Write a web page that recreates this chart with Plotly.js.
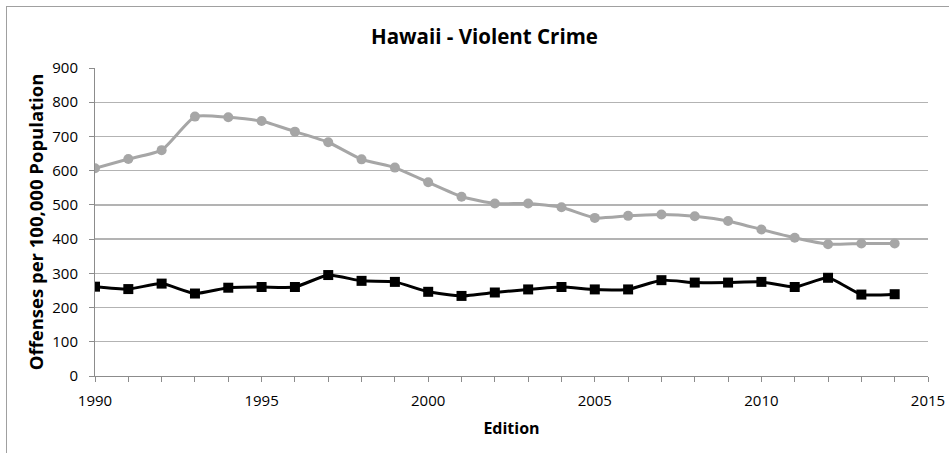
<!DOCTYPE html>
<html>
<head>
<meta charset="utf-8">
<script src="https://cdn.plot.ly/plotly-3.0.1.min.js"></script>
<style>
  html, body { margin: 0; padding: 0; background: #ffffff; }
  #frame { position: absolute; left: 6px; top: 6px; width: 960px; height: 470px; border: 1px solid #a0a0a0; box-sizing: border-box; }
  #chart { position: absolute; left: 0; top: 0; width: 949px; height: 453px; }
</style>
</head>
<body>
<div id="frame"></div>
<div id="chart"></div>
<script>
const years = [1990, 1991, 1992, 1993, 1994, 1995, 1996, 1997, 1998, 1999, 2000, 2001, 2002,
               2003, 2004, 2005, 2006, 2007, 2008, 2009, 2010, 2011, 2012, 2013, 2014];
const grayValues = [607, 634, 660, 758, 756, 745, 714, 683, 633, 609, 566, 524, 504,
                    504, 493, 462, 468, 472, 467, 453, 428, 404, 385, 387, 387];
const blackValues = [261, 254, 270, 241, 258, 260, 260, 295, 278, 275, 246, 234, 244,
                     253, 260, 253, 253, 280, 273, 273, 275, 260, 287, 238, 239];
const xTicks = [1990, 1995, 2000, 2005, 2010, 2015];
const yTicks = [0, 100, 200, 300, 400, 500, 600, 700, 800, 900];

const tickFont = { family: 'Open Sans, sans-serif', size: 15, color: '#000000' };
const axisColor = '#8c8c8c';

const traces = [
  {
    x: years, y: grayValues, type: 'scatter', mode: 'lines+markers', name: 'US',
    line: { color: '#a6a6a6', width: 3, shape: 'spline', smoothing: 0.5 },
    marker: { color: '#a6a6a6', size: 10, symbol: 'circle' }
  },
  {
    x: years, y: blackValues, type: 'scatter', mode: 'lines+markers', name: 'Hawaii',
    line: { color: '#000000', width: 3, shape: 'spline', smoothing: 0.5 },
    marker: { color: '#000000', size: 10, symbol: 'square' }
  }
];

const layout = {
  width: 949, height: 453,
  paper_bgcolor: 'rgba(0,0,0,0)', plot_bgcolor: 'rgba(0,0,0,0)',
  margin: { l: 95, r: 21, t: 68, b: 77 },
  showlegend: false,
  title: {
    text: '<b>Hawaii - Violent Crime</b>',
    font: { family: 'Open Sans, sans-serif', size: 20.5, color: '#000000' },
    x: 0.5105, xanchor: 'center', y: 0.918, yanchor: 'middle'
  },
  xaxis: {
    range: [1990, 2015], tickvals: xTicks, ticktext: xTicks.map(String),
    showgrid: false, zeroline: false,
    showline: true, linecolor: axisColor, linewidth: 1,
    ticks: 'outside', ticklen: 5, tickcolor: axisColor, tickwidth: 1,
    minor: { dtick: 1, tick0: 1990, ticks: 'outside', ticklen: 5, tickcolor: axisColor, showgrid: false },
    tickfont: tickFont, ticklabelstandoff: 6,
    title: { text: '<b>Edition</b>', font: { family: 'Open Sans, sans-serif', size: 16, color: '#000000' }, standoff: 13 }
  },
  yaxis: {
    range: [0, 900], tickvals: yTicks, ticktext: yTicks.map(String),
    showgrid: true, gridcolor: '#b3b3b3', gridwidth: 1.3, zeroline: false,
    showline: true, linecolor: axisColor, linewidth: 1,
    ticks: 'outside', ticklen: 5, tickcolor: axisColor, tickwidth: 1,
    tickfont: tickFont, ticklabelstandoff: 8,
    title: { text: '<b>Offenses per 100,000 Population</b>', font: { family: 'Open Sans, sans-serif', size: 18.5, color: '#000000' }, standoff: 3 }
  }
};

Plotly.newPlot('chart', traces, layout, { displayModeBar: false, staticPlot: true });
</script>
</body>
</html>
